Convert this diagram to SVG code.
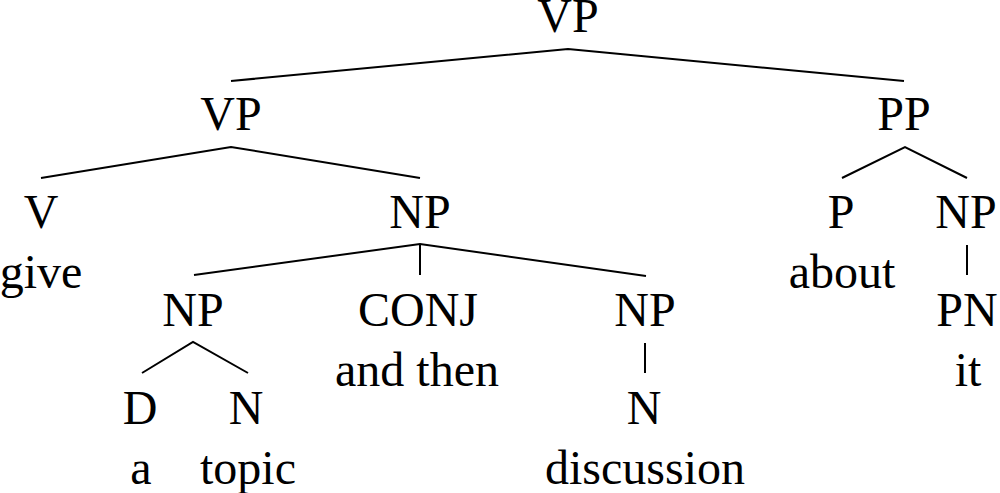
<svg xmlns="http://www.w3.org/2000/svg" width="1000" height="493" viewBox="0 0 1000 493">
<style>
text{font-family:"Liberation Serif","Times New Roman",serif;font-size:48px;fill:#000;text-anchor:middle}
.e{stroke:#000;stroke-width:2;fill:none}
</style>
<rect width="1000" height="493" fill="#fff"/>
<g id="connectors">
<polyline class="e" points="231,81 568,49 904,81"/>
<polyline class="e" points="41,178 231,147 420,178"/>
<polyline class="e" points="194,275 420,244 646,276"/>
<line class="e" x1="420" y1="244" x2="420" y2="275"/>
<polyline class="e" points="142,373 193,342 248,373"/>
<line class="e" x1="645" y1="343" x2="645" y2="373"/>
<polyline class="e" points="842,178 905,147 967,178"/>
<line class="e" x1="967" y1="245" x2="967" y2="275"/>
</g>
<g id="vp-root"><text x="568" y="32">VP</text></g>
<g id="vp"><text x="231" y="130">VP</text></g>
<g id="pp"><text x="904" y="130">PP</text></g>
<g id="v"><text x="41" y="228">V</text><text x="41" y="288">give</text></g>
<g id="np-main"><text x="420" y="228">NP</text></g>
<g id="p"><text x="841" y="228">P</text><text x="842" y="288">about</text></g>
<g id="np-pp"><text x="966" y="228">NP</text></g>
<g id="np-left"><text x="193" y="326">NP</text></g>
<g id="conj"><text x="418" y="326">CONJ</text><text x="417" y="386">and then</text></g>
<g id="np-right"><text x="645" y="326">NP</text></g>
<g id="pn"><text x="967" y="326">PN</text><text x="968" y="386">it</text></g>
<g id="d"><text x="140" y="424">D</text><text x="141" y="484">a</text></g>
<g id="n-topic"><text x="246" y="424">N</text><text x="248" y="484">topic</text></g>
<g id="n-discussion"><text x="644" y="424">N</text><text x="645" y="484">discussion</text></g>
</svg>
